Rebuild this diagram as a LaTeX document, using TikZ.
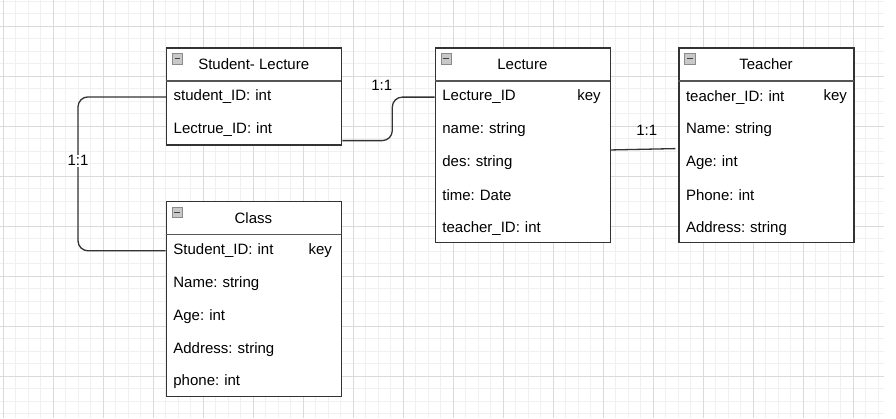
\documentclass[tikz,border=0pt]{standalone}
\usepackage{fontspec}
\setmainfont{Liberation Sans}
\usetikzlibrary{calc}
\definecolor{gridminor}{HTML}{F0F0F0}
\definecolor{gridmajor}{HTML}{DADADA}
\definecolor{boxline}{HTML}{333333}
\definecolor{hdrline}{HTML}{555555}
\definecolor{iconfill}{HTML}{C8C8C8}
\definecolor{iconline}{HTML}{8A8A8A}
\frenchspacing
\begin{document}
\begin{tikzpicture}[x=1pt,y=-1pt,
  every node/.style={font=\fontsize{15}{18}\selectfont\frenchspacing},
  tbl/.style={draw=boxline, line width=1.3pt, fill=white, minimum width=175pt, inner sep=0pt},
  hdr/.style={minimum width=175pt, minimum height=33pt, inner sep=0pt, anchor=north west},
  row/.style={minimum height=32.4pt, text width=160pt, inner xsep=7.5pt, inner ysep=0pt, align=left, anchor=north west},
  hsep/.style={draw=hdrline, line width=1.6pt},
  icon/.style={draw=iconline, fill=iconfill, line width=0.6pt, minimum size=10.5pt, inner sep=0pt,
    path picture={\draw[black!75, line width=1.1pt]
      ($(path picture bounding box.west)+(2.5,0)$) -- ($(path picture bounding box.east)+(-2.5,0)$);}},
  keytxt/.style={anchor=east, inner sep=0pt},
  conn/.style={draw=boxline, line width=1.3pt, rounded corners=10pt},
  lab/.style={inner sep=1pt}
]
\useasboundingbox (0,0) rectangle (896,418);
% grid
\foreach \i in {0,...,70} \draw[gridminor, line width=1pt] (3+12.5*\i,0) -- (3+12.5*\i,418);
\foreach \j in {0,...,33} \draw[gridminor, line width=1pt] (0,1+12.5*\j) -- (884,1+12.5*\j);
\foreach \i in {0,...,17} \draw[gridmajor, line width=1pt] (3+50*\i,0) -- (3+50*\i,418);
\foreach \j in {0,...,7} \draw[gridmajor, line width=1pt] (0,26+50*\j) -- (884,26+50*\j);

% Student- Lecture
\node[tbl, minimum height=97pt, anchor=north west] (sl) at (166,47.3) {};
\node[hdr] (slh) at (sl.north west) {Student- Lecture};
\draw[hsep] (slh.south west) -- (slh.south east);
\node[icon] (sli) at ($(sl.north west)+(11.5,11.5)$) {};
\node[row, minimum height=32pt] (slr1) at (slh.south west) {student\_ID: int};
\node[row, minimum height=32pt] (slr2) at (slr1.south west) {Lectrue\_ID: int};

% Lecture
\node[tbl, minimum height=194.4pt, anchor=north west] (lec) at (434.7,47.3) {};
\node[hdr] (lech) at (lec.north west) {Lecture};
\draw[hsep] (lech.south west) -- (lech.south east);
\node[icon] (leci) at ($(lec.north west)+(11.5,11.5)$) {};
\node[row] (lr1) at (lech.south west) {Lecture\_ID};
\node[row] (lr2) at (lr1.south west) {name: string};
\node[row] (lr3) at (lr2.south west) {des: string};
\node[row] (lr4) at (lr3.south west) {time: Date};
\node[row] (lr5) at (lr4.south west) {teacher\_ID: int};
\node[keytxt] (lkey) at ($(lr1.east)+(-9.3,0)$) {key};

% Teacher
\node[tbl, minimum height=194.7pt, anchor=north west] (tea) at (678.3,47.3) {};
\node[hdr] (teah) at (tea.north west) {Teacher};
\draw[hsep] (teah.south west) -- (teah.south east);
\node[icon] (teai) at ($(tea.north west)+(11.5,11.5)$) {};
\node[row] (tr1) at (teah.south west) {teacher\_ID: int};
\node[row] (tr2) at (tr1.south west) {Name: string};
\node[row] (tr3) at (tr2.south west) {Age: int};
\node[row] (tr4) at (tr3.south west) {Phone: int};
\node[row] (tr5) at (tr4.south west) {Address: string};
\node[keytxt] (tkey) at ($(tr1.east)+(-6.6,0)$) {key};

% Class
\node[tbl, minimum height=195pt, anchor=north west] (cls) at (165.7,201) {};
\node[hdr] (clsh) at (cls.north west) {Class};
\draw[hsep] (clsh.south west) -- (clsh.south east);
\node[icon] (clsi) at ($(cls.north west)+(11.5,11.5)$) {};
\node[row] (cr1) at (clsh.south west) {Student\_ID: int};
\node[row] (cr2) at (cr1.south west) {Name: string};
\node[row] (cr3) at (cr2.south west) {Age: int};
\node[row] (cr4) at (cr3.south west) {Address: string};
\node[row] (cr5) at (cr4.south west) {phone: int};
\node[keytxt] (ckey) at ($(cr1.east)+(-9,0)$) {key};

% connectors
\draw[conn] (slr1.west) -- ++(-88,0) |- (cr1.west);
\node[lab, fill=white] (lab1) at (78,160.7) {1:1};

\coordinate (slout) at ($(sl.south east)+(0,-5)$);
\draw[conn] (slout) -- ++(50,0) |- (lr1.west);
\node[lab] (lab2) at (381.7,85) {1:1};

\coordinate (lecout) at ($(lec.east)+(0,4.8)$);
\coordinate (teain) at ($(tea.west)+(-3,3.3)$);
\draw[conn] (lecout) -- (teain);
\node[lab] (lab3) at (646.7,130) {1:1};
\end{tikzpicture}
\end{document}
